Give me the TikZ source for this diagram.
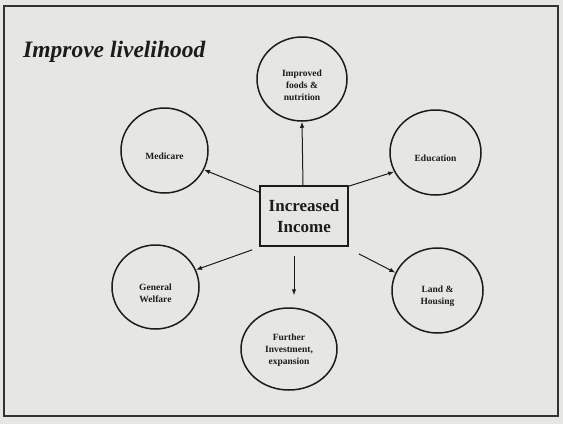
\documentclass[tikz,border=0pt]{standalone}
\usepackage{fontspec}
\setmainfont{Liberation Serif}
\usetikzlibrary{shapes.geometric,arrows.meta}
\definecolor{ink}{HTML}{1C1C1C}
\definecolor{paper}{HTML}{E6E6E3}
\begin{document}
\begin{tikzpicture}[x=1pt,y=-1pt,
  bubble/.style={draw=ink,line width=1.5pt,ellipse,inner sep=0pt},
  lab/.style={inner sep=0pt,align=center,text=ink,
    font=\bfseries\fontsize{9.5}{12}\selectfont},
  hub/.style={draw=ink,line width=1.7pt,rectangle,inner sep=0pt,align=center,
    minimum width=88pt,minimum height=60pt,text=ink,
    font=\bfseries\fontsize{17}{21}\selectfont},
  link/.style={draw=ink,line width=1pt,-{Latex[length=6pt,width=4.5pt]}}]

% page and frame
\fill[paper] (0,0) rectangle (563,424);
\useasboundingbox (0,0) rectangle (563,424);
\draw[ink!90,line width=2.6pt] (4,6) rectangle (558,416);

% title
\node[anchor=base west,inner sep=0pt,text=ink,
  font=\bfseries\itshape\fontsize{23.5}{27}\selectfont] (title) at (23,57) {Improve livelihood};

% centre
\node[hub] (hub) at (304,216) {Increased\\Income};

% outcomes (labels sit a little below each centre)
\node[bubble,minimum width=90pt,minimum height=84pt,
  label={[lab,yshift=-6pt]center:Improved\\foods \&\\nutrition}] (food) at (302,79) {};
\node[bubble,minimum width=87pt,minimum height=85pt,
  label={[lab,yshift=-6pt]center:Medicare}] (med) at (164.5,150.5) {};
\node[bubble,minimum width=91pt,minimum height=85pt,
  label={[lab,yshift=-6pt]center:Education}] (edu) at (435.5,152.5) {};
\node[bubble,minimum width=87pt,minimum height=84pt,
  label={[lab,yshift=-6pt]center:General\\Welfare}] (gw) at (155.5,287) {};
\node[bubble,minimum width=91pt,minimum height=85pt,
  label={[lab,yshift=-6pt]center:Land \&\\Housing}] (land) at (437.5,290.5) {};
\node[bubble,minimum width=96pt,minimum height=82pt,
  label={[lab,yshift=-1pt]center:Further\\Investment,\\expansion}] (fur) at (289,349) {};

% connectors
\draw[link] ([xshift=-1pt]hub.north) -- (food.south);
\draw[link] ([yshift=-7pt]hub.north west) -- (med.-26);
\draw[link] ([yshift=-1pt]hub.north east) -- (edu.205);
\draw[link] ([xshift=-7pt,yshift=-3pt]hub.south west) -- (gw.23);
\draw[link] ([xshift=10pt,yshift=-7pt]hub.south east) -- (land.157);
\draw[link,shorten <=9pt,shorten >=12pt] ([xshift=-10pt]hub.south) -- ([xshift=5pt]fur.north);
\end{tikzpicture}
\end{document}
